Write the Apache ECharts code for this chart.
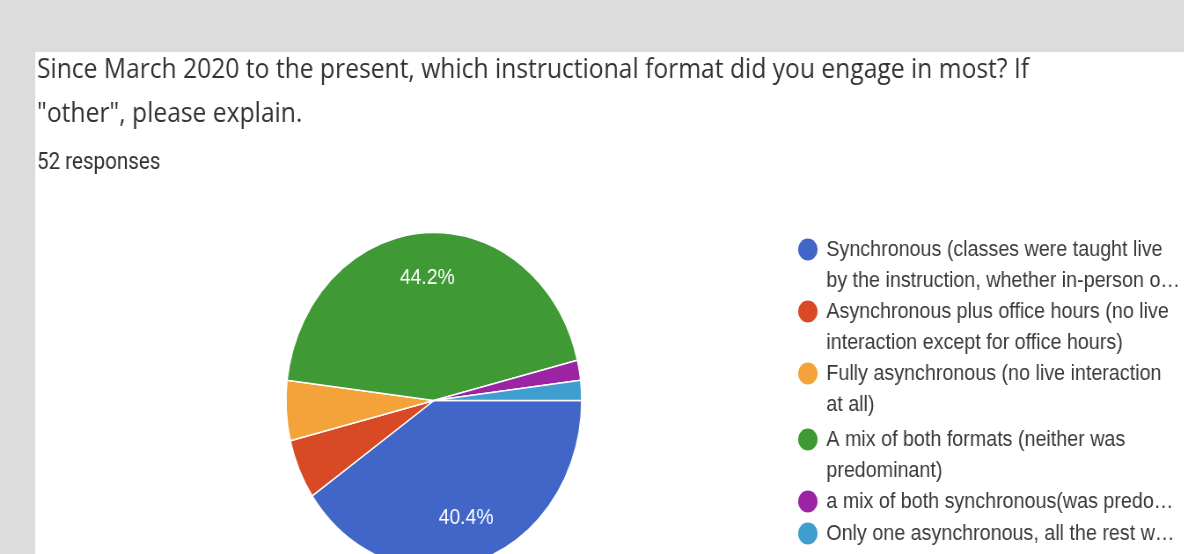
<!DOCTYPE html>
<html>
<head>
<meta charset="utf-8">
<style>
  html, body { margin: 0; padding: 0; background: #dcdcdc; overflow: hidden; }
  /* the form screenshot is horizontally compressed, so the whole chart is drawn wider and squeezed */
  #chart { width: 1346px; height: 554px; transform: scaleX(0.88); transform-origin: 0 0; }
</style>
<script src="https://cdn.jsdelivr.net/npm/echarts@6/dist/echarts.min.js"></script>
</head>
<body>
<div id="chart"></div>
<script>
// Survey answers (52 responses)
const categories = [
  'Synchronous (classes were taught live\nby the instruction, whether in-person o…',
  'Asynchronous plus office hours (no live\ninteraction except for office hours)',
  'Fully asynchronous (no live interaction\nat all)',
  'A mix of both formats (neither was\npredominant)',
  'a mix of both synchronous(was predo…',
  'Only one asynchronous, all the rest w…'
];
const counts = [21, 3, 3, 23, 1, 1];
const colors = ['#4266c8', '#d84a25', '#f4a23a', '#3f9a35', '#9a24a4', '#3f9dd0'];

const titleText = 'Since March 2020 to the present, which instructional format did you engage in most? If\n"other", please explain.';
const responsesText = '52 responses';

// vertical centre of each legend marker
const legendRows = [248, 310, 372, 438, 500, 532];
const LINE_H = 31;
const DOT = 22;

// a dot at the top of a taller box, so the marker lines up with the first text line
function tallDot(extra) {
  const r = DOT / 2;
  return 'path://M0,' + r + 'a' + r + ',' + r + ' 0 1,0 ' + DOT + ',0a' + r + ',' + r + ' 0 1,0 -' + DOT + ',0Z' +
    'M' + r + ',' + (DOT + extra) + 'L' + r + ',' + (DOT + extra);
}

const pieData = categories.map((name, i) => ({ name: name, value: counts[i], itemStyle: { color: colors[i] } }));

const legends = categories.map((name, i) => {
  const lines = name.split('\n').length;
  const extra = (lines - 1) * LINE_H;
  return {
    orient: 'vertical',
    left: 907,
    top: legendRows[i] - 14,
    padding: 0,
    itemWidth: 32,
    itemHeight: DOT + extra,
    itemStyle: { borderWidth: 0 },
    textStyle: {
      fontFamily: 'Liberation Sans',
      fontSize: 22.4,
      color: '#3a3a3a',
      lineHeight: LINE_H
    },
    data: [{ name: name, icon: lines > 1 ? tallDot(extra) : 'circle' }]
  };
});

const chart = echarts.init(document.getElementById('chart'), null, { renderer: 'canvas' });
chart.setOption({
  backgroundColor: '#dcdcdc',
  animation: false,
  graphic: [{
    type: 'rect',
    z: -10,
    shape: { x: 40, y: 52, width: 1306, height: 502 },
    style: { fill: '#ffffff' }
  }],
  title: [{
    text: titleText,
    left: 42,
    top: 48,
    padding: 0,
    textStyle: {
      fontFamily: 'Open Sans',
      fontSize: 28,
      fontWeight: 'normal',
      color: '#333333',
      lineHeight: 44
    }
  }, {
    text: responsesText,
    left: 42,
    top: 150,
    padding: 0,
    textStyle: {
      fontFamily: 'Roboto',
      fontSize: 23.4,
      fontWeight: 'normal',
      color: '#333333',
      lineHeight: 26
    }
  }],
  tooltip: { trigger: 'item' },
  legend: legends,
  series: [{
    type: 'pie',
    center: [493, 400.5],
    radius: [0, 168],
    startAngle: 0,
    clockwise: true,
    percentPrecision: 1,
    label: { show: false },
    labelLine: { show: false },
    itemStyle: { borderColor: '#ffffff', borderWidth: 1.5 },
    emphasis: { scale: false },
    data: pieData
  }, {
    // percentage labels sitting toward the rim of the large slices
    type: 'pie',
    silent: true,
    center: [493, 400.5],
    radius: [72, 168],
    startAngle: 0,
    clockwise: true,
    percentPrecision: 1,
    tooltip: { show: false },
    itemStyle: { color: 'transparent' },
    labelLine: { show: false },
    label: {
      show: true,
      position: 'inside',
      fontFamily: 'Liberation Sans',
      fontSize: 22,
      color: '#ffffff',
      formatter: p => (p.percent >= 10 ? p.percent.toFixed(1) + '%' : '')
    },
    data: categories.map((name, i) => ({ name: name, value: counts[i] }))
  }]
});
</script>
</body>
</html>
